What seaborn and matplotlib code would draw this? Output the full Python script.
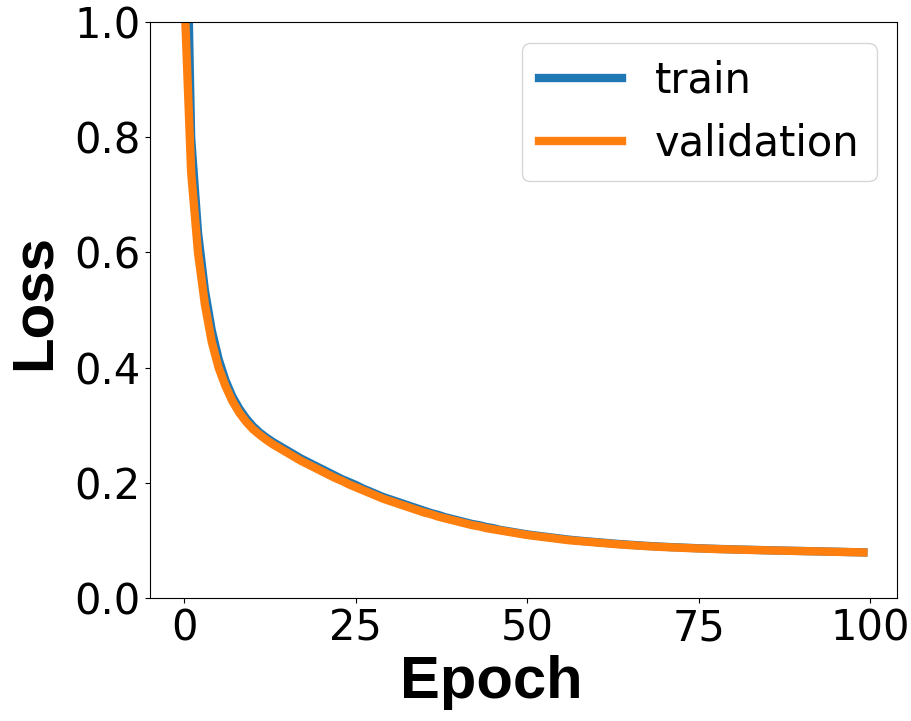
import numpy as np
import pandas as pd
import seaborn as sns
import matplotlib
matplotlib.use("Agg")
import matplotlib.pyplot as plt

# Loss per epoch
epochs = list(range(100))

train_loss = [1.40, 0.80, 0.635, 0.535, 0.465, 0.415, 0.378, 0.350, 0.329, 0.312,
              0.298, 0.287, 0.278, 0.270, 0.263, 0.256, 0.249, 0.242, 0.236, 0.230,
              0.224, 0.218, 0.212, 0.206, 0.201, 0.196, 0.190, 0.185, 0.180, 0.175,
              0.171, 0.167, 0.163, 0.159, 0.155, 0.151, 0.147, 0.144, 0.140, 0.137,
              0.134, 0.131, 0.128, 0.126, 0.123, 0.121, 0.118, 0.116, 0.114, 0.112,
              0.110, 0.1085, 0.107, 0.1055, 0.104, 0.1025, 0.101, 0.0998, 0.0987, 0.0977,
              0.0967, 0.0957, 0.0947, 0.0937, 0.0928, 0.0920, 0.0912, 0.0904, 0.0897, 0.0891,
              0.0885, 0.0879, 0.0874, 0.0869, 0.0864, 0.0859, 0.0855, 0.0851, 0.0847, 0.0844,
              0.0840, 0.0837, 0.0834, 0.0831, 0.0828, 0.0825, 0.0822, 0.0820, 0.0817, 0.0814,
              0.0812, 0.0809, 0.0807, 0.0804, 0.0801, 0.0799, 0.0796, 0.0793, 0.0791, 0.0788]

val_loss = [1.05, 0.74, 0.60, 0.51, 0.445, 0.40, 0.368, 0.342, 0.322, 0.306,
            0.293, 0.283, 0.274, 0.266, 0.259, 0.252, 0.245, 0.238, 0.232, 0.226,
            0.220, 0.214, 0.208, 0.203, 0.197, 0.192, 0.187, 0.182, 0.177, 0.172,
            0.168, 0.164, 0.160, 0.156, 0.152, 0.148, 0.145, 0.141, 0.138, 0.135,
            0.132, 0.129, 0.126, 0.124, 0.121, 0.119, 0.117, 0.115, 0.113, 0.111,
            0.109, 0.1075, 0.106, 0.1045, 0.103, 0.1015, 0.100, 0.099, 0.098, 0.097,
            0.096, 0.095, 0.094, 0.093, 0.0922, 0.0914, 0.0906, 0.0899, 0.0892, 0.0886,
            0.0880, 0.0875, 0.0870, 0.0865, 0.0860, 0.0856, 0.0852, 0.0848, 0.0844, 0.0841,
            0.0838, 0.0835, 0.0832, 0.0829, 0.0826, 0.0823, 0.0820, 0.0818, 0.0816, 0.0813,
            0.0810, 0.0808, 0.0806, 0.0803, 0.0800, 0.0798, 0.0795, 0.0792, 0.0790, 0.0787]

df = pd.DataFrame({"epoch": epochs, "train": train_loss, "validation": val_loss})

fig, ax = plt.subplots(figsize=(9.11, 7.21), dpi=100)
fig.subplots_adjust(left=0.165, right=0.985, top=0.969, bottom=0.171)

sns.lineplot(data=df, x="epoch", y="train", ax=ax, color="#1f77b4",
             linewidth=6, label="train")
sns.lineplot(data=df, x="epoch", y="validation", ax=ax, color="#ff7f0e",
             linewidth=6, label="validation")

ax.set_ylim(0, 1.0)
ax.set_xticks([0, 25, 50, 75, 100])
ax.tick_params(axis="both", labelsize=30)

ax.set_xlabel("Epoch", fontsize=43, fontweight="bold", family="Liberation Sans")
ax.set_ylabel("Loss", fontsize=42, fontweight="bold", family="Liberation Sans",
              labelpad=9)
# the labels sit a little off-centre in the reference
ax.xaxis.label.set_x(0.456)
ax.yaxis.label.set_y(0.514)

ax.legend(loc="upper right", fontsize=30)

plt.savefig("out.png", dpi=100)
